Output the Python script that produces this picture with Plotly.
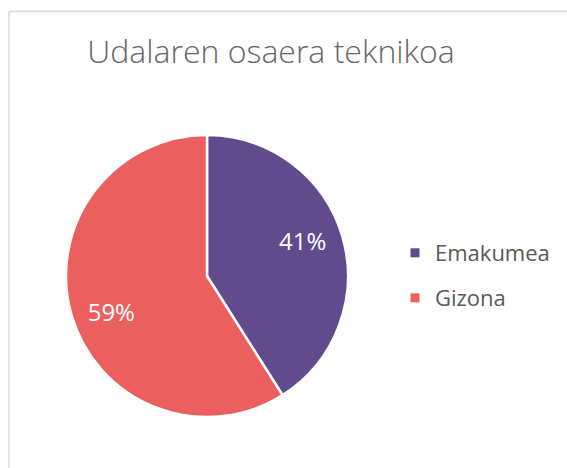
import plotly.graph_objects as go

labels = ["Emakumea", "Gizona"]
values = [41, 59]
colors = ["#614B8D", "#EB5F5F"]
title_text = "Udalaren osaera teknikoa"

W, H = 567, 468
FONT = "Open Sans"

def px_x(x):
    return x / W

def px_y(y):
    return 1 - y / H

pie_domain = dict(x=[px_x(66), px_x(348)], y=[px_y(417), px_y(135)])

fig = go.Figure()

# slices
fig.add_trace(go.Pie(
    labels=labels,
    values=values,
    marker=dict(colors=colors, line=dict(color="white", width=2.5)),
    sort=False,
    direction="clockwise",
    rotation=0,
    textinfo="none",
    showlegend=False,
    hoverinfo="label+percent",
    domain=pie_domain,
))

# percentage labels (transparent ring so labels sit at ~72% of the radius)
fig.add_trace(go.Pie(
    labels=labels,
    values=values,
    hole=0.45,
    marker=dict(colors=["rgba(0,0,0,0)"] * len(labels), line=dict(width=0)),
    sort=False,
    direction="clockwise",
    rotation=-4.4,
    texttemplate="%{percent:.0%}",
    textposition="inside",
    insidetextorientation="horizontal",
    textfont=dict(color="white", size=24, family=FONT),
    showlegend=False,
    hoverinfo="skip",
    domain=pie_domain,
))

legend_names = ["legend", "legend2"]
legend_y = [253, 298]
for lab, col, lg in zip(labels, colors, legend_names):
    fig.add_trace(go.Scatter(
        x=[None], y=[None], mode="markers", name=lab,
        marker=dict(symbol="square", size=9, color=col),
        legend=lg, showlegend=True, hoverinfo="skip",
    ))

leg_common = dict(
    xanchor="left", yanchor="middle",
    font=dict(family=FONT, size=22, color="#595959"),
    bgcolor="rgba(0,0,0,0)", borderwidth=0,
)

fig.update_layout(
    width=W, height=H,
    margin=dict(l=0, r=0, t=0, b=0),
    paper_bgcolor="white",
    plot_bgcolor="white",
    title=dict(
        text=title_text,
        x=px_x(271), xanchor="center",
        y=px_y(52), yanchor="middle",
        font=dict(family=FONT, size=32, color="#666666", weight=300),
    ),
    xaxis=dict(visible=False),
    yaxis=dict(visible=False),
    legend=dict(x=px_x(395), y=px_y(legend_y[0]), **leg_common),
    legend2=dict(x=px_x(395), y=px_y(legend_y[1]), **leg_common),
    shapes=[
        dict(type="line", xref="paper", yref="paper",
             x0=px_x(9), x1=1.05, y0=px_y(11.5), y1=px_y(11.5),
             line=dict(color="#D9D9D9", width=1.5)),
        dict(type="line", xref="paper", yref="paper",
             x0=px_x(9), x1=px_x(9), y0=px_y(11.5), y1=-0.05,
             line=dict(color="#D9D9D9", width=1.5)),
    ],
)

fig.write_html(
    "out.html",
    config={"displayModeBar": False},
    post_script="document.body.style.margin='0px';document.body.style.overflow='hidden';",
)
